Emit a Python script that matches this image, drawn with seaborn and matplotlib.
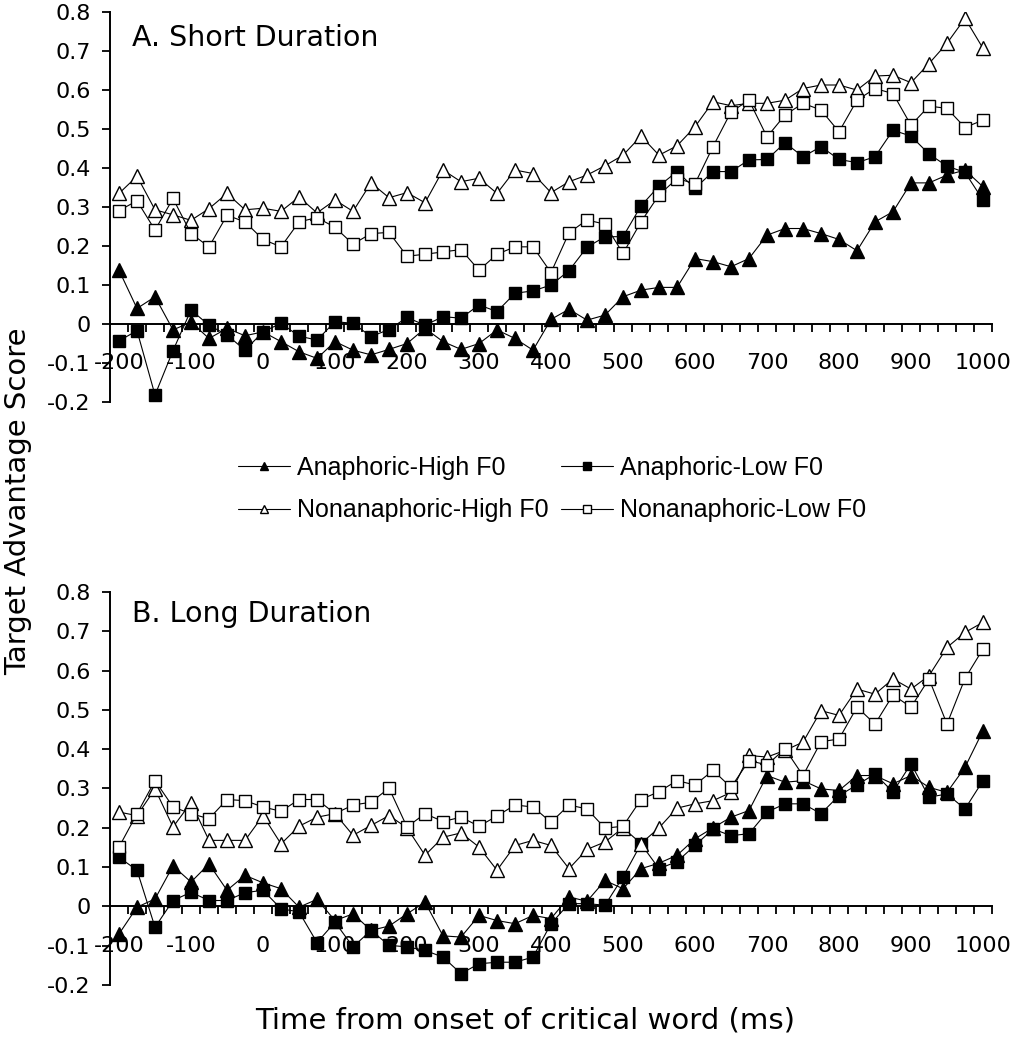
import numpy as np
import pandas as pd
import matplotlib
matplotlib.use("Agg")
import matplotlib.pyplot as plt
import seaborn as sns

# time bins (ms from onset of critical word), one point every 25 ms
time_ms = list(range(-200, 1001, 25))

# A. Short Duration
short_anaph_high = [0.138, 0.04, 0.07, -0.015, 0.005, -0.037, -0.011, -0.03, -0.02, -0.045,
                    -0.071, -0.088, -0.045, -0.067, -0.079, -0.065, -0.05, -0.011, -0.045, -0.065,
                    -0.05, -0.015, -0.037, -0.067, 0.012, 0.038, 0.01, 0.023, 0.07, 0.087,
                    0.094, 0.094, 0.168, 0.16, 0.147, 0.168, 0.228, 0.245, 0.245, 0.232,
                    0.217, 0.188, 0.262, 0.288, 0.362, 0.362, 0.382, 0.395, 0.352]
short_anaph_low = [-0.043, -0.017, -0.182, -0.068, 0.036, -0.003, -0.028, -0.067, -0.02, 0.002,
                   -0.031, -0.041, 0.006, 0.002, -0.032, -0.014, 0.017, -0.003, 0.019, 0.015,
                   0.049, 0.032, 0.079, 0.085, 0.1, 0.137, 0.197, 0.224, 0.224, 0.303,
                   0.354, 0.391, 0.348, 0.391, 0.391, 0.421, 0.422, 0.465, 0.429, 0.455,
                   0.422, 0.414, 0.429, 0.497, 0.482, 0.436, 0.405, 0.389, 0.318]
short_nonanaph_high = [0.335, 0.379, 0.293, 0.28, 0.266, 0.296, 0.335, 0.293, 0.297, 0.289,
                       0.326, 0.285, 0.318, 0.289, 0.362, 0.324, 0.337, 0.311, 0.395, 0.365,
                       0.374, 0.335, 0.395, 0.386, 0.337, 0.365, 0.382, 0.406, 0.433, 0.482,
                       0.433, 0.457, 0.506, 0.57, 0.56, 0.566, 0.566, 0.574, 0.604, 0.613,
                       0.613, 0.6, 0.636, 0.638, 0.619, 0.668, 0.72, 0.784, 0.707]
short_nonanaph_low = [0.291, 0.316, 0.241, 0.322, 0.232, 0.198, 0.279, 0.262, 0.217, 0.198,
                      0.262, 0.273, 0.248, 0.205, 0.232, 0.235, 0.174, 0.179, 0.185, 0.191,
                      0.138, 0.179, 0.198, 0.198, 0.132, 0.234, 0.267, 0.256, 0.181, 0.262,
                      0.331, 0.373, 0.36, 0.455, 0.544, 0.574, 0.48, 0.536, 0.566, 0.549,
                      0.493, 0.574, 0.604, 0.591, 0.51, 0.559, 0.553, 0.504, 0.523]

# B. Long Duration
long_anaph_high = [-0.07, -0.002, 0.019, 0.103, 0.062, 0.108, 0.041, 0.079, 0.06, 0.045,
                   -0.002, 0.018, -0.036, -0.019, -0.061, -0.05, -0.019, 0.011, -0.075, -0.078,
                   -0.023, -0.036, -0.044, -0.023, -0.031, 0.024, 0.013, 0.066, 0.045, 0.096,
                   0.11, 0.13, 0.172, 0.2, 0.227, 0.244, 0.333, 0.316, 0.32, 0.299,
                   0.295, 0.333, 0.333, 0.312, 0.333, 0.303, 0.29, 0.354, 0.447]
long_anaph_low = [0.125, 0.092, -0.053, 0.015, 0.036, 0.015, 0.015, 0.035, 0.041, -0.006,
                  -0.014, -0.092, -0.04, -0.103, -0.061, -0.099, -0.103, -0.112, -0.129, -0.171,
                  -0.146, -0.142, -0.142, -0.129, -0.044, 0.007, 0.007, 0.003, 0.075, 0.159,
                  0.096, 0.114, 0.155, 0.197, 0.18, 0.185, 0.24, 0.261, 0.261, 0.236,
                  0.282, 0.309, 0.337, 0.291, 0.363, 0.278, 0.286, 0.248, 0.32]
long_nonanaph_high = [0.24, 0.231, 0.299, 0.202, 0.264, 0.168, 0.168, 0.168, 0.231, 0.159,
                      0.204, 0.227, 0.236, 0.181, 0.206, 0.231, 0.2, 0.13, 0.176, 0.187,
                      0.151, 0.092, 0.155, 0.168, 0.155, 0.096, 0.145, 0.164, 0.2, 0.16,
                      0.2, 0.25, 0.261, 0.269, 0.29, 0.384, 0.38, 0.397, 0.418, 0.498,
                      0.486, 0.553, 0.54, 0.579, 0.553, 0.587, 0.659, 0.697, 0.723]
long_nonanaph_low = [0.151, 0.236, 0.32, 0.253, 0.236, 0.223, 0.272, 0.269, 0.253, 0.242,
                     0.272, 0.272, 0.236, 0.258, 0.265, 0.301, 0.202, 0.236, 0.216, 0.227,
                     0.204, 0.23, 0.258, 0.253, 0.214, 0.258, 0.248, 0.199, 0.204, 0.272,
                     0.292, 0.32, 0.309, 0.346, 0.303, 0.371, 0.36, 0.401, 0.333, 0.419,
                     0.426, 0.507, 0.464, 0.538, 0.507, 0.579, 0.464, 0.58, 0.655]

conditions = ["Anaphoric-High F0", "Anaphoric-Low F0", "Nonanaphoric-High F0", "Nonanaphoric-Low F0"]
panel_titles = ["A. Short Duration", "B. Long Duration"]
x_tick_values = [-200, -100, 0, 100, 200, 300, 400, 500, 600, 700, 800, 900, 1000]
y_tick_values = [-0.2, -0.1, 0, 0.1, 0.2, 0.3, 0.4, 0.5, 0.6, 0.7, 0.8]
y_tick_labels = ["-0.2", "-0.1", "0", "0.1", "0.2", "0.3", "0.4", "0.5", "0.6", "0.7", "0.8"]

panel_data = {
    panel_titles[0]: [short_anaph_high, short_anaph_low, short_nonanaph_high, short_nonanaph_low],
    panel_titles[1]: [long_anaph_high, long_anaph_low, long_nonanaph_high, long_nonanaph_low],
}

rows = []
for panel, series in panel_data.items():
    for cond, vals in zip(conditions, series):
        for t, v in zip(time_ms, vals):
            rows.append({"panel": panel, "condition": cond, "time": t, "score": v})
df = pd.DataFrame(rows)

# marker style per condition: (marker, face colour, size)
styles = {
    "Anaphoric-High F0": ("^", "black", 10),
    "Anaphoric-Low F0": ("s", "black", 9),
    "Nonanaphoric-High F0": ("^", "white", 10),
    "Nonanaphoric-Low F0": ("s", "white", 9),
}

sns.set_style("white")
plt.rcParams["font.family"] = ["DejaVu Sans"]
plt.rcParams["text.color"] = "black"
plt.rcParams["xtick.color"] = "black"
plt.rcParams["ytick.color"] = "black"
plt.rcParams["axes.labelcolor"] = "black"

fig = plt.figure(figsize=(10.14, 10.5), dpi=100)
ax_a = fig.add_axes([0.1085, 0.6171, 0.8698, 0.3714])
ax_b = fig.add_axes([0.1085, 0.0619, 0.8698, 0.3743])

handles = {}
for ax, panel, ty in [(ax_a, panel_titles[0], 0.913), (ax_b, panel_titles[1], 0.924)]:
    sub = df[df["panel"] == panel]
    for cond in conditions:
        mk, fc, ms = styles[cond]
        d = sub[sub["condition"] == cond]
        sns.lineplot(data=d, x="time", y="score", ax=ax, color="black", lw=0.8,
                     marker=mk, markersize=ms, markerfacecolor=fc,
                     markeredgecolor="black", markeredgewidth=1.0, label=cond,
                     legend=False)
        handles[cond] = ax.get_lines()[-1]

    ax.set_xlim(-212.5, 1012.5)
    ax.set_ylim(-0.2, 0.8)
    ax.spines["top"].set_visible(False)
    ax.spines["right"].set_visible(False)
    ax.spines["bottom"].set_position(("data", 0))
    ax.spines["bottom"].set_linewidth(1.4)
    ax.spines["left"].set_linewidth(1.4)
    ax.spines["bottom"].set_color("black")
    ax.spines["left"].set_color("black")

    ax.set_xticks(x_tick_values)
    ax.set_xticklabels([str(v) for v in x_tick_values])
    ax.set_xticks(np.arange(-187.5, 1013, 25), minor=True)
    ax.tick_params(axis="x", which="major", length=0, pad=21, labelsize=16)
    ax.tick_params(axis="x", which="minor", length=6, width=1.3, direction="out",
                   bottom=True, color="black")
    ax.set_yticks(y_tick_values)
    ax.set_yticklabels(y_tick_labels)
    ax.tick_params(axis="y", which="major", length=6, width=1.3, direction="out",
                   left=True, pad=8, labelsize=16, color="black")
    ax.set_xlabel("")
    ax.set_ylabel("")
    ax.text(0.025, ty, panel, transform=ax.transAxes, fontsize=20.5, va="baseline")

fig.text(0.0178, 0.523, "Target Advantage Score", rotation=90, fontsize=21,
         ha="center", va="center")
fig.text(0.518, 0.028, "Time from onset of critical word (ms)", fontsize=21,
         ha="center", va="center")

order = ["Anaphoric-High F0", "Nonanaphoric-High F0", "Anaphoric-Low F0", "Nonanaphoric-Low F0"]
fig.legend([handles[c] for c in order], order, ncol=2, loc="upper left",
           bbox_to_anchor=(225 / 1014, 1 - 443 / 1050), frameon=False,
           prop={"family": "Liberation Sans", "size": 18},
           handlelength=2.1, handletextpad=0.27, columnspacing=0.5, labelspacing=0.75,
           markerscale=0.6, borderpad=0)

fig.savefig("out.png", dpi=100)
